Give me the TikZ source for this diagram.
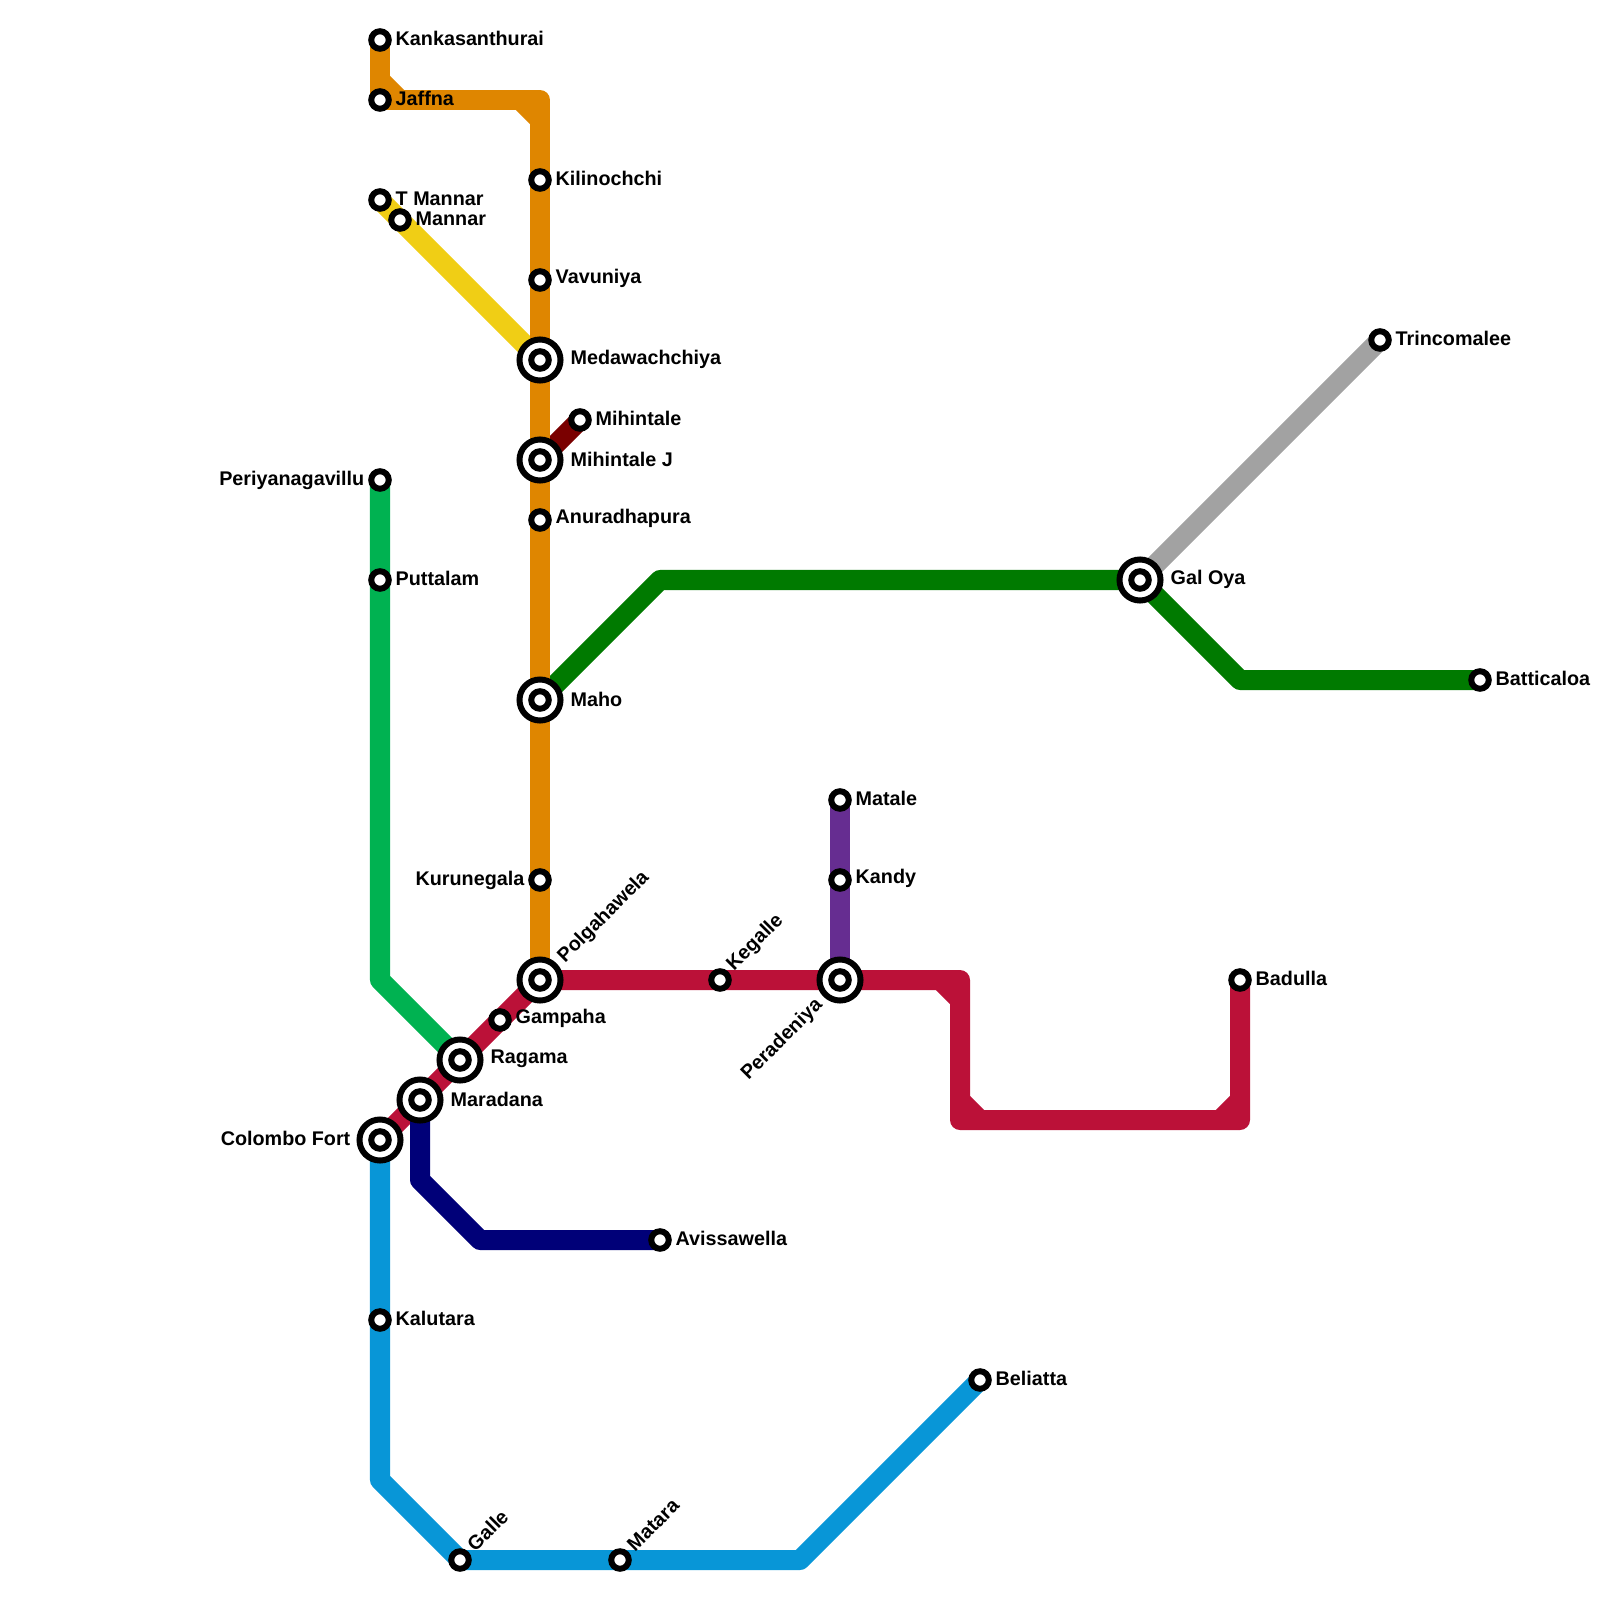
\documentclass[tikz,border=0pt]{standalone}
\usepackage{fontspec}
\setmainfont{Liberation Sans}
\usetikzlibrary{backgrounds}
\definecolor{Amber}{HTML}{DF8600}
\definecolor{Canary}{HTML}{F0CE15}
\definecolor{Maroon}{HTML}{7A0000}
\definecolor{Emerald}{HTML}{00B251}
\definecolor{Forest}{HTML}{007A00}
\definecolor{Ash}{HTML}{A2A2A2}
\definecolor{Crimson}{HTML}{BB1138}
\definecolor{Ink}{HTML}{000078}
\definecolor{Plum}{HTML}{662D91}
\definecolor{Sky}{HTML}{0896D7}
\tikzset{
  railline/.style={line width=0.2cm, line join=round},
  stopnode/.style={circle, draw=black, fill=white, line width=0.06cm, inner sep=0pt, minimum size=0.175cm},
  hubnode/.style={circle, draw=black, fill=white, line width=0.06cm, inner sep=0pt, minimum size=0.41cm},
  stoplabel/.style={font=\fontsize{5.62}{6.5}\selectfont\bfseries, inner sep=0pt, text=black},
}

\begin{document}
\begin{tikzpicture}[x=0.01cm,y=-0.01cm]
\path[use as bounding box] (0,0) rectangle (1600,1600);

% plain stops, label to the right
\foreach \id/\x/\y/\txt in {kanka/380/40/Kankasanthurai,jaffna/380/100/Jaffna,kilino/540/180/Kilinochchi,vavuniya/540/280/Vavuniya,tmannar/380/200/T Mannar,mannar/400/220/Mannar,mihintale/580/420/Mihintale,anuradha/540/520/Anuradhapura,puttalam/380/580/Puttalam,trinco/1380/340/Trincomalee,batti/1480/680/Batticaloa,matale/840/800/Matale,kandy/840/880/Kandy,badulla/1240/980/Badulla,gampaha/500/1020/Gampaha,avissa/660/1240/Avissawella,kalutara/380/1320/Kalutara,beliatta/980/1380/Beliatta}{
  \node[stopnode] (\id) at (\x,\y) {};
  \node[stoplabel,anchor=west] (\id-txt) at (\x+15,\y-1.5) {\txt};
}
% plain stops, label to the left
\foreach \id/\x/\y/\txt in {periya/380/480/Periyanagavillu,kurunegala/540/880/Kurunegala}{
  \node[stopnode] (\id) at (\x,\y) {};
  \node[stoplabel,anchor=east] (\id-txt) at (\x-15,\y) {\txt};
}
% plain stops, slanted label
\foreach \id/\x/\y/\txt in {kegalle/720/980/Kegalle,galle/460/1560/Galle,matara/620/1560/Matara}{
  \node[stopnode] (\id) at (\x,\y) {};
  \node[stoplabel,anchor=west,rotate=45] (\id-txt) at (\x+10,\y-12) {\txt};
}
% interchanges, label to the right
\foreach \id/\x/\y/\txt in {medawa/540/360/Medawachchiya,mihintalej/540/460/Mihintale J,maho/540/700/Maho,galoya/1140/580/Gal Oya,ragama/460/1060/Ragama,maradana/420/1100/Maradana}{
  \node[hubnode] (\id) at (\x,\y) {};
  \node[stopnode] (\id-in) at (\x,\y) {};
  \node[stoplabel,anchor=west] (\id-txt) at (\x+30,\y-1) {\txt};
}
% interchanges with their own label place
\node[hubnode] (colombo) at (380,1140) {};
\node[stopnode] (colombo-in) at (380,1140) {};
\node[stoplabel,anchor=east] (colombo-txt) at (351,1138) {Colombo Fort};
\node[hubnode] (polga) at (540,980) {};
\node[stopnode] (polga-in) at (540,980) {};
\node[stoplabel,anchor=west,rotate=45] (polga-txt) at (561,960) {Polgahawela};
\node[hubnode] (peradeniya) at (840,980) {};
\node[stopnode] (peradeniya-in) at (840,980) {};
\node[stoplabel,anchor=east,rotate=45] (peradeniya-txt) at (820,1002) {Peradeniya};

% bends
\coordinate (bendA) at (540,100);
\coordinate (bendB) at (380,980);
\coordinate (bendC) at (660,580);
\coordinate (bendD) at (1240,680);
\coordinate (bendE) at (960,980);
\coordinate (bendF) at (960,1120);
\coordinate (bendG) at (1240,1120);
\coordinate (bendH) at (420,1180);
\coordinate (bendI) at (480,1240);
\coordinate (bendJ) at (380,1480);
\coordinate (bendK) at (800,1560);
% corner cuts
\coordinate (cutA1) at (380,80);
\coordinate (cutA2) at (400,100);
\coordinate (cutB1) at (520,100);
\coordinate (cutB2) at (540,120);
\coordinate (cutC1) at (940,980);
\coordinate (cutC2) at (960,1000);
\coordinate (cutD1) at (960,1100);
\coordinate (cutD2) at (980,1120);
\coordinate (cutE1) at (1220,1120);
\coordinate (cutE2) at (1240,1100);

% lines
\begin{pgfonlayer}{background}
\draw[railline,Canary] (tmannar.center) -- (medawa.center);
\draw[railline,Maroon] (mihintalej.center) -- (mihintale.center);
\draw[railline,Forest] (maho.center) -- (bendC) -- (galoya.center) -- (bendD) -- (batti.center);
\draw[railline,Ash] (galoya.center) -- (trinco.center);
\draw[railline,Emerald] (periya.center) -- (bendB) -- (ragama.center);
\draw[railline,Amber] (kanka.center) -- (jaffna.center) -- (bendA) -- (polga.center);
\draw[railline,Amber] (cutA1) -- (cutA2);
\draw[railline,Amber] (cutB1) -- (cutB2);
\draw[railline,Crimson] (colombo.center) -- (polga.center) -- (bendE) -- (bendF) -- (bendG) -- (badulla.center);
\draw[railline,Crimson] (cutC1) -- (cutC2);
\draw[railline,Crimson] (cutD1) -- (cutD2);
\draw[railline,Crimson] (cutE1) -- (cutE2);
\draw[railline,Ink] (maradana.center) -- (bendH) -- (bendI) -- (avissa.center);
\draw[railline,Plum] (matale.center) -- (peradeniya.center);
\draw[railline,Sky] (colombo.center) -- (bendJ) -- (galle.center) -- (bendK) -- (beliatta.center);
\end{pgfonlayer}
\end{tikzpicture}
\end{document}
